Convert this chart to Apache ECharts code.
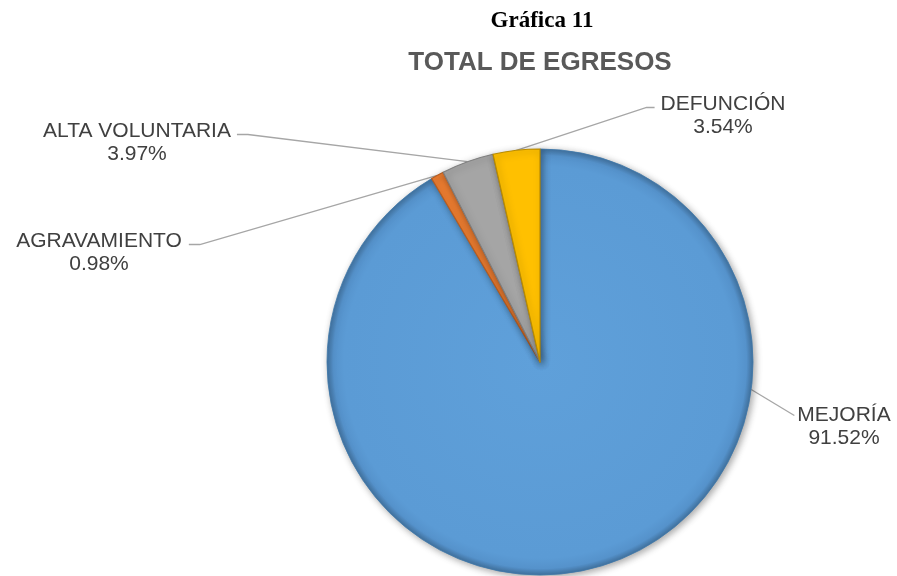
<!DOCTYPE html>
<html><head><meta charset="utf-8">
<script src="https://cdn.jsdelivr.net/npm/echarts@6/dist/echarts.min.js"></script>
<style>html,body{margin:0;padding:0;background:#fff}#c{width:897px;height:576px}</style>
</head><body><div id="c"></div>
<script>
const categories = ['MEJORÍA', 'AGRAVAMIENTO', 'ALTA VOLUNTARIA', 'DEFUNCIÓN'];
const values = [91.52, 0.98, 3.97, 3.54];
const colors = ['#5B9BD5', '#ED7D31', '#A5A5A5', '#FFC000'];
const edgeColors = ['#3f78ab', '#b85d20', '#7f7f7f', '#b98b00'];

// label box anchor positions (layout only)
const labelAnchors = [[844, 381], [99, 207], [137, 97], [723, 70]];
const labelLen2 = [0, 11, 11, 8];
const labelGap = [3, 7, 6, 6];
const lineDy = [0, 3, 3, 3];

const CX = 540, CY = 362, R = 213;
const PAD_TOP = 23, LINE_H = 23;

function fillFor(i) {
  if (i !== 0) return colors[i];
  return new echarts.graphic.RadialGradient(CX, CY, R, [
    {offset: 0, color: '#5fa0da'},
    {offset: 0.92, color: '#5B9BD5'},
    {offset: 0.97, color: '#5592cb'},
    {offset: 1, color: '#41729f'}
  ], true);
}

const chart = echarts.init(document.getElementById('c'), null, {renderer: 'canvas'});
chart.setOption({
  animation: false,
  backgroundColor: '#ffffff',
  title: [
    {text: 'Gráfica 11', left: 537, top: 5, textAlign: 'center',
     textStyle: {fontFamily: 'Liberation Serif', fontWeight: 'bold', fontSize: 23, color: '#000'}},
    {text: 'TOTAL DE EGRESOS', left: 535, top: 45, textAlign: 'center',
     textStyle: {fontFamily: 'Liberation Sans', fontWeight: 'bold', fontSize: 26, color: '#595959'}}
  ],
  series: [{
    type: 'pie',
    center: [CX, CY],
    radius: R,
    startAngle: 90,
    clockwise: true,
    avoidLabelOverlap: false,
    data: categories.map((n, i) => ({
      name: n, value: values[i],
      itemStyle: {
        color: fillFor(i),
        borderColor: edgeColors[i], borderWidth: i === 0 ? 0.8 : 1.2,
        shadowBlur: 7, shadowColor: 'rgba(0,0,0,0.35)', shadowOffsetX: 2, shadowOffsetY: 2
      }
    })),
    label: {
      show: true,
      position: 'outside',
      formatter: p => p.name + '\n' + p.value.toFixed(2) + '%',
      fontFamily: 'Liberation Sans',
      fontSize: 21,
      lineHeight: LINE_H,
      color: '#404040',
      align: 'center',
      padding: [PAD_TOP, 0, 0, 0]
    },
    labelLine: {
      show: true, length: 10, length2: 10, smooth: false, minTurnAngle: 0,
      lineStyle: {color: '#A6A6A6', width: 1.3}
    },
    labelLayout: function (params) {
      const i = params.dataIndex;
      const a = labelAnchors[i];
      const w = params.labelRect.width;
      const leftSide = a[0] < CX;
      const ay = a[1] + PAD_TOP + LINE_H / 2 + lineDy[i];
      const ax = leftSide ? a[0] + w / 2 + labelGap[i] : a[0] - w / 2 - labelGap[i];
      const mx = leftSide ? ax + labelLen2[i] : ax - labelLen2[i];
      let p0;
      if (i === 0) {
        // point on the outer arc a little above the label line end
        const y = ay - 26;
        const dy = y - CY;
        p0 = [CX + Math.sqrt(R * R - dy * dy), y];
      } else {
        p0 = params.labelLinePoints[0];
      }
      return {
        x: a[0], y: a[1], align: 'center', verticalAlign: 'top',
        labelLinePoints: [p0, [mx, ay], [ax, ay]]
      };
    },
    emphasis: {disabled: true}
  }]
});
</script>
</body></html>
